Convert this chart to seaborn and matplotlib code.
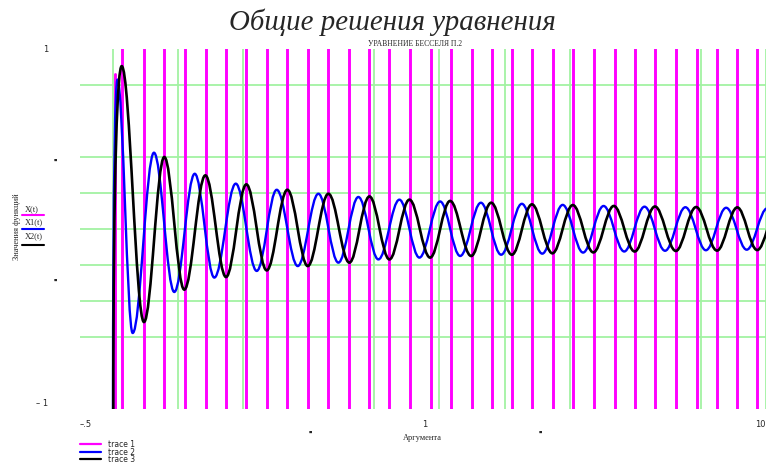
import matplotlib
matplotlib.use("Agg")
import matplotlib.pyplot as plt
from matplotlib.path import Path
from matplotlib.patches import PathPatch
import pandas as pd
import seaborn as sns

# ---- data -------------------------------------------------------------
# trace 1: poles of the ratio function (vertical jumps across the whole range)
trace1_poles = [0.147, 0.479, 0.790, 1.112, 1.424, 1.735, 2.041, 2.358, 2.674,
                2.991, 3.302, 3.623, 3.930, 4.236, 4.553, 4.870, 5.185, 5.498,
                5.809, 6.115, 6.426, 6.738, 7.049, 7.360, 7.685, 7.998, 8.305,
                8.627, 8.940, 9.254, 9.560, 9.867]
trace1_spike_x = 0.043
trace1_spike_top = 0.86

# trace 2 (blue): start point and successive extrema
trace2_x = [0.005, 0.0735, 0.306, 0.632, 0.943, 1.256, 1.556, 1.884, 2.205,
            2.511, 2.833, 3.149, 3.455, 3.761, 4.067, 4.389, 4.695, 5.012,
            5.319, 5.636, 5.946, 6.263, 6.575, 6.888, 7.200, 7.514, 7.830,
            8.140, 8.455, 8.766, 9.080, 9.390, 9.705, 10.020]
trace2_y = [-1.05, 0.83, -0.578, 0.424, -0.35, 0.307, -0.27, 0.252, -0.233,
            0.218, -0.206, 0.196, -0.187, 0.178, -0.169, 0.163, -0.159, 0.153,
            -0.15, 0.146, -0.143, 0.14, -0.137, 0.134, -0.131, 0.128, -0.125,
            0.124, -0.121, 0.121, -0.118, 0.118, -0.115, 0.115]

# trace 3 (black): start point and successive extrema
trace3_x = [0.009, 0.138, 0.479, 0.790, 1.096, 1.418, 1.735, 2.046, 2.358,
            2.674, 2.986, 3.302, 3.623, 3.930, 4.236, 4.542, 4.859, 5.165,
            5.487, 5.793, 6.110, 6.417, 6.730, 7.043, 7.357, 7.670, 7.990,
            8.300, 8.620, 8.930, 9.250, 9.560, 9.865, 10.180]
trace3_y = [-1.05, 0.905, -0.517, 0.40, -0.337, 0.298, -0.267, 0.248, -0.23,
            0.218, -0.206, 0.196, -0.187, 0.181, -0.169, 0.163, -0.159, 0.156,
            -0.15, 0.146, -0.143, 0.137, -0.135, 0.133, -0.13, 0.128, -0.125,
            0.125, -0.122, 0.122, -0.12, 0.12, -0.117, 0.117]

grid_x = list(range(0, 11))
grid_y = [-0.6, -0.4, -0.2, 0.0, 0.2, 0.4, 0.8]

legend_labels = ["trace 1", "trace 2", "trace 3"]
side_labels = ["X(t)", "X1(t)", "X2(t)"]

MAGENTA = "#ff00ff"
BLUE = "#0000ff"
BLACK = "#000000"
GRID = "#a2f2a2"

W, H = 766, 464

sns.set_style("white")
plt.rcParams["font.family"] = ["Liberation Serif", "DejaVu Sans"]

fig = plt.figure(figsize=(W / 100, H / 100), dpi=100)
ax = fig.add_axes([80 / W, 54 / H, 686 / W, 360 / H])


def fx(px):
    return px / W


def fy(py):
    return 1 - py / H


# ---- trace 1: vertical jumps, one unit per pole ------------------------
rows = []
for i, x in enumerate(trace1_poles):
    rows.append((i, x, -1.05))
    rows.append((i, x, 1.05))
rows.append((len(trace1_poles), trace1_spike_x, -1.05))
rows.append((len(trace1_poles), trace1_spike_x, trace1_spike_top))
df1 = pd.DataFrame(rows, columns=["seg", "x", "y"])
sns.lineplot(data=df1, x="x", y="y", units="seg", estimator=None, sort=False,
             color=MAGENTA, lw=2.1, ax=ax, legend=False, zorder=3)


# ---- traces 2 and 3: smooth curves through the extrema ----------------
def extrema_path(xs, ys):
    verts = [(xs[0], ys[0])]
    codes = [Path.MOVETO]
    for i in range(1, len(xs)):
        x0, y0, x1, y1 = xs[i - 1], ys[i - 1], xs[i], ys[i]
        d = (x1 - x0) * 0.364
        if i == 1:
            # steep rise from the bottom into the first maximum
            c1 = (x0, y0 + 0.75 * (y1 - y0))
            c2 = (x1 - 0.45 * (x1 - x0), y1)
        else:
            c1 = (x0 + d, y0)
            c2 = (x1 - d, y1)
        verts += [c1, c2, (x1, y1)]
        codes += [Path.CURVE4] * 3
    return Path(verts, codes)


for xs, ys, col, lw, z in [(trace2_x, trace2_y, BLUE, 1.7, 4),
                           (trace3_x, trace3_y, BLACK, 1.9, 5)]:
    ax.add_patch(PathPatch(extrema_path(xs, ys), fill=False, edgecolor=col,
                           lw=lw, zorder=z, joinstyle="round"))

# ---- axes -------------------------------------------------------------
ax.set_xlim(-0.5, 10)
ax.set_ylim(-1, 1)
ax.set_xticks(grid_x)
ax.set_yticks(grid_y)
ax.tick_params(length=0, labelbottom=False, labelleft=False)
ax.grid(True, color=GRID, lw=1.3)
ax.set_axisbelow(True)
ax.set_xlabel("")
ax.set_ylabel("")
for s in ax.spines.values():
    s.set_visible(False)

# ---- texts ------------------------------------------------------------
fig.text(fx(392), fy(22), "Общие решения уравнения", ha="center", va="center",
         fontsize=20.8, style="italic", family="Liberation Serif")
fig.text(fx(415), fy(44), "УРАВНЕНИЕ БЕССЕЛЯ П.2", ha="center", va="center",
         fontsize=5.5, family="Liberation Serif")

small = dict(fontsize=6, family="DejaVu Sans", va="center")
fig.text(fx(46), fy(49), "1", ha="center", **small)
fig.text(fx(42), fy(404), "– 1", ha="center", **small)
fig.text(fx(86), fy(425), "–.5", ha="center", **small)
fig.text(fx(425), fy(425), "1", ha="center", **small)
fig.text(fx(766), fy(425), "10", ha="right", **small)
for px, py in [(55, 160), (55, 280), (310, 432), (540, 432)]:
    fig.text(fx(px), fy(py), "■", ha="center", fontsize=2.5,
             family="DejaVu Sans", va="center")

fig.text(fx(422), fy(438), "Аргумента", ha="center", va="center",
         fontsize=6, family="Liberation Serif")
fig.text(fx(17), fy(227), "Значения функций", ha="center", va="center",
         rotation=90, fontsize=6, family="Liberation Serif")

# labels beside the vertical axis with short line samples
for lab, col, ty, ly in zip(side_labels, [MAGENTA, BLUE, BLACK],
                            [209, 222, 236], [216, 230, 246]):
    fig.text(fx(25), fy(ty), lab, ha="left", va="center", fontsize=6,
             family="Liberation Serif")
    fig.add_artist(plt.Line2D([fx(22), fx(44)], [fy(ly), fy(ly)], color=col,
                              lw=1.5, transform=fig.transFigure))

# legend at the bottom
for lab, col, ly in zip(legend_labels, [MAGENTA, BLUE, BLACK], [445, 452.5, 460]):
    fig.add_artist(plt.Line2D([fx(80), fx(101)], [fy(ly), fy(ly)], color=col,
                              lw=1.6, transform=fig.transFigure))
    fig.text(fx(108), fy(ly), lab, ha="left", va="center", fontsize=5.5,
             family="DejaVu Sans")

fig.savefig("out.png", dpi=100)
